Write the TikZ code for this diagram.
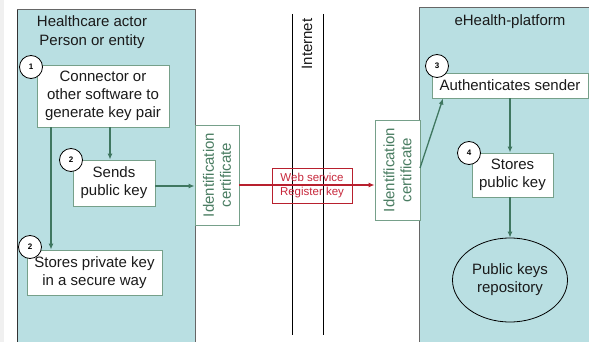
\documentclass[tikz,border=0pt]{standalone}
\usepackage{fontspec}
\setmainfont{Liberation Sans}
\usetikzlibrary{shapes.geometric,arrows.meta,calc}
\definecolor{panel}{HTML}{B9DFE2}
\definecolor{boxline}{HTML}{76A08A}
\definecolor{arrgreen}{HTML}{3F7760}
\definecolor{certtxt}{HTML}{4A7D62}
\definecolor{webred}{HTML}{B8202E}
\definecolor{webtxt}{HTML}{C8283C}
\definecolor{txt}{HTML}{1A1A1A}
\tikzset{
  wbox/.style={draw=boxline, line width=0.9pt, fill=white, align=center, inner sep=0pt,
    font=\fontsize{15}{18}\selectfont, text=txt},
  numc/.style={circle, draw=black, line width=0.8pt, fill=white, minimum size=23pt, inner sep=0pt,
    font=\bfseries\fontsize{8}{9}\selectfont},
  cert/.style={draw=boxline, line width=0.9pt, fill=white, inner sep=0pt,
    minimum width=44pt, minimum height=100pt},
  certlabel/.style={rotate=90, align=center, text=certtxt, font=\fontsize{15}{17}\selectfont},
  garr/.style={draw=arrgreen, line width=1.3pt, -{Latex[length=6pt,width=5pt]}},
  panelline/.style={draw=gray!80!black, line width=1pt},
}
\begin{document}
\begin{tikzpicture}[x=1pt,y=-1pt]
\useasboundingbox (0,0) rectangle (589,342);
\fill[white] (0,0) rectangle (589,342);
\fill[black!6] (0,0) rectangle (4,342);
% panels
\fill[panel] (17,10) rectangle (195,345);
\draw[panelline] (17,345) -- (17,10) -- (195,10) -- (195,345);
\draw[black!80, line width=1pt] (17,10) -- (17,345);
\fill[panel] (419,8) rectangle (595,345);
\draw[panelline] (419,345) -- (419,8) -- (595,8);
\node[font=\fontsize{15}{19}\selectfont, text=txt, align=center] (ltitle) at (92,32) {Healthcare actor\\Person or entity};
\node[font=\fontsize{15}{18}\selectfont, text=txt] (rtitle) at (510,22) {eHealth-platform};
% internet lines
\coordinate (il1) at (292,14);
\coordinate (il2) at (323,14);
\coordinate (il1b) at (292,335);
\coordinate (il2b) at (323,335);
\draw[black, line width=1pt] (il1) -- (il1b);
\draw[black, line width=1pt] (il2) -- (il2b);
\node[rotate=90, font=\fontsize{15}{18}\selectfont, text=txt] (inet) at (307,44) {Internet};
% left boxes
\node[wbox, minimum width=132pt, minimum height=62pt] (gen) at (103,96) {Connector or\\other software to\\generate key pair};
\node[wbox, minimum width=82pt, minimum height=46pt] (sends) at (114,183) {Sends\\public key};
\node[wbox, minimum width=135pt, minimum height=45pt] (priv) at (94.5,272.5) {Stores private key\\in a secure way};
\node[cert] (lcert) at (217,175) {};
\node[certlabel] (lcertt) at (lcert.center) {Identification\\certificate};
% right boxes
\node[cert, minimum width=45pt] (rcert) at (397.5,170) {};
\node[certlabel] (rcertt) at (rcert.center) {Identification\\certificate};
\node[wbox, minimum width=156pt, minimum height=25pt] (auth) at (510,85.5) {Authenticates sender};
\node[wbox, minimum width=81pt, minimum height=44pt] (spub) at (512.5,175) {Stores\\public key};
\node[ellipse, draw=black, line width=0.8pt, minimum width=115pt, minimum height=84pt, inner sep=0pt,
  align=center, font=\fontsize{15}{18}\selectfont, text=txt] (repo) at (510,280) {Public keys\\repository};
% web service box
\node[draw=webred, line width=0.9pt, minimum width=80pt, minimum height=35pt, inner sep=0pt] (web) at (312,185.5) {};
\draw[webred, line width=1.3pt, -{Latex[length=6pt,width=5pt]}] (lcert.east |- 0,185) -- (rcert.west |- 0,185);
\node[align=center, text=webtxt, font=\fontsize{11.5}{14}\selectfont] (webt) at (web.center) {Web service\\Register key};
% number circles
\node[numc] (c1) at (31,67) {1};
\node[numc] (c2a) at (71,160) {2};
\node[numc] (c2b) at (30,247) {2};
\node[numc] (c3) at (437,66) {3};
\node[numc] (c4) at (469,153) {4};
% green arrows
\coordinate (px) at (51,0);
\coordinate (sx) at (110,0);
\coordinate (ax) at (443,0);
\coordinate (rs) at (420,168);
\draw[garr] (gen.south -| sx) -- (sends.north -| sx);
\draw[garr] (gen.south -| px) -- (priv.north -| px);
\draw[garr] (sends.east |- 0,186) -- (lcert.west |- 0,186);
\draw[garr] (rs) -- (auth.south -| ax);
\draw[garr] (auth.south) -- (auth.south |- spub.north);
\draw[garr] (spub.south -| repo.north) -- (repo.north);
\end{tikzpicture}
\end{document}
